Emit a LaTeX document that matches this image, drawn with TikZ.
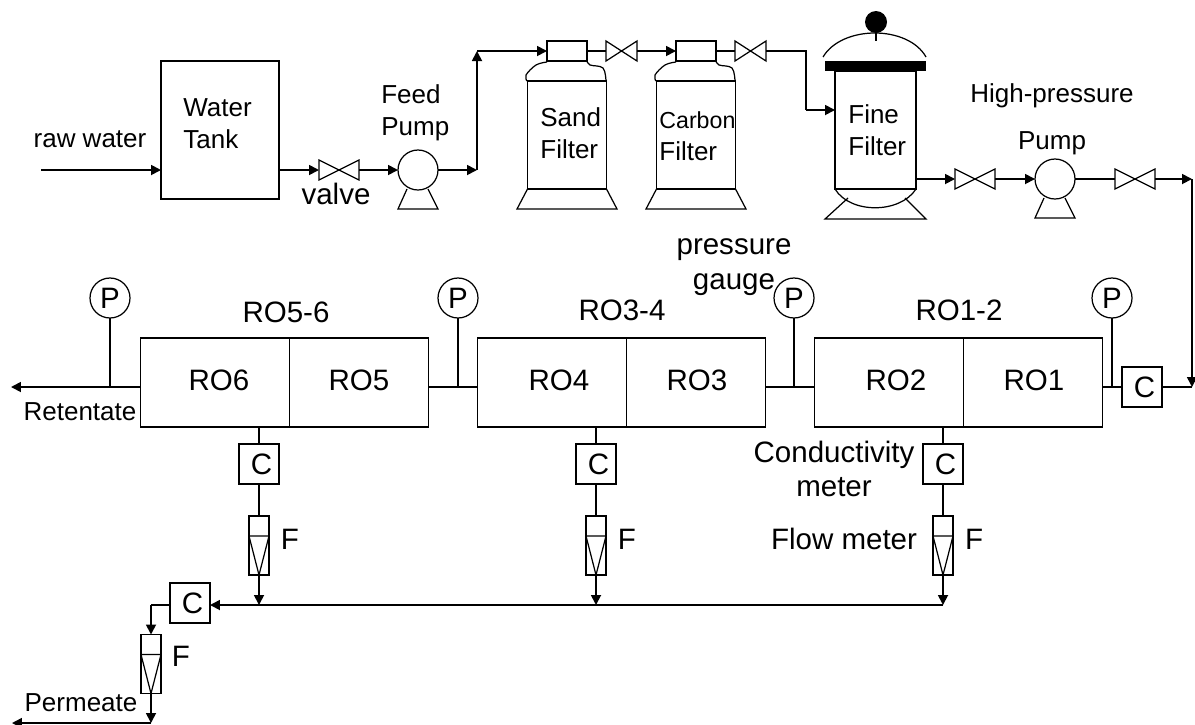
\documentclass[tikz,border=0pt]{standalone}
\usepackage{fontspec}
\setmainfont{Liberation Sans}
\usetikzlibrary{arrows.meta, positioning, shapes, calc}

% Valve, pump and flow meter symbols, each built round one named node
\newcommand{\valvesym}[4][0.8cm]{
  \node (#2) [valvebox, minimum width=#1] at (#3,#4) {};
  \draw [sym] (#2.north west) -- (#2.south east) -- (#2.north east) -- (#2.south west) -- cycle;
}
\newcommand{\pumpsym}[3]{
  \node (#1) [pumpbody] at (#2,#3) {};
  \draw [sym] ({#2-11},{#3+19}) -- ({#2-20},{#3+39}) -- ({#2+20},{#3+39}) -- ({#2+10},{#3+19});
}
\newcommand{\flowsym}[3]{
  \node (#1) [flowbox] at (#2,#3) {};
  \draw [sym] (#1.north west) ++(0,-0.4cm) -- ++(0.4cm,0) -- (#1.south) -- cycle;
}
\newcommand{\filtersym}[2]{
  \node (#1body) [filterbody] at (#2,135) {};
  \node (#1cap) [capbox] at (#2,51) {};
  \draw [sym] plot[smooth, tension=0.6] coordinates {({#2-40},81) ({#2-41},75) ({#2-31},65) ({#2-20},62)};
  \draw [sym] plot[smooth, tension=0.6] coordinates {({#2+20},61) ({#2+23},65) ({#2+36},68) ({#2+39},81)};
  \draw [sym] (#1body.south west) -- ({#2-50},209) -- ({#2+50},209) -- (#1body.south east);
}

\begin{document}
\begin{tikzpicture}[x=0.02cm, y=-0.02cm, font=\fontsize{14.8}{18.1}\selectfont]
        \tikzstyle{sym} = [line width=0.7pt]
        \tikzstyle{valvebox} = [rectangle, minimum height=0.4cm, inner sep=0pt, outer sep=0pt]
        \tikzstyle{pumpbody} = [circle, draw, sym, minimum size=0.8cm, inner sep=0pt, outer sep=0pt]
        \tikzstyle{flowbox} = [rectangle, draw, sym, minimum width=0.4cm, minimum height=1.18cm, inner sep=0pt, outer sep=0pt]
        \tikzstyle{filterbody} = [rectangle, draw, sym, minimum width=1.58cm, minimum height=2.16cm, inner sep=0pt, outer sep=0pt]
        \tikzstyle{capbox} = [rectangle, draw, sym, minimum width=0.8cm, minimum height=0.4cm, inner sep=0pt, outer sep=0pt]
        \tikzstyle{robox} = [rectangle, draw, sym, minimum height=1.78cm, inner sep=0pt, outer sep=0pt]
        \tikzstyle{meter} = [rectangle, draw, sym, minimum size=0.8cm, inner sep=0pt, outer sep=0pt, font=\fontsize{16.8}{20}\selectfont, execute at begin node=\hspace{0.1cm}]
        \tikzstyle{gauge} = [circle, draw, sym, minimum size=0.8cm, inner sep=0pt, outer sep=0pt, font=\fontsize{16.8}{20}\selectfont]
        \tikzstyle{lbl} = [inner sep=0pt, text height=2.4ex, text depth=0.5ex]
        \tikzstyle{biglbl} = [lbl, font=\fontsize{16.8}{20}\selectfont]
        \tikzstyle{arrow} = [-{Triangle[length=0.2cm, width=0.2cm]}, line width=1pt]
        \tikzstyle{pipe} = [line width=0.8pt]

        \useasboundingbox (0,0) rectangle (1195,724);

        % Feed side
        \coordinate (rawin) at (41,170);
        \node (tank) [rectangle, draw, sym, minimum width=2.36cm, minimum height=2.76cm, inner sep=0pt, outer sep=0pt] at (220,130) {};
        \coordinate (tankout) at (279,170);
        \valvesym{feedvalve}{339}{170}
        \pumpsym{feedpump}{418}{170}
        \coordinate (riser) at (477,170);
        \coordinate (risertop) at (477,51);

        % Filters
        \filtersym{sand}{567}
        \filtersym{carbon}{696}
        \valvesym[0.62cm]{sandvalve}{621.5}{51}
        \valvesym[0.62cm]{carbonvalve}{750.5}{51}
        \node (finebody) [filterbody, minimum width=1.62cm, minimum height=2.36cm] at (875.5,130) {};
        \node (fineband) [rectangle, fill=black, minimum width=2.02cm, minimum height=0.2cm, inner sep=0pt] at (875.5,66) {};
        \node (fineknob) [circle, fill=black, minimum size=0.44cm, inner sep=0pt] at (876,22) {};
        \coordinate (finestem) at (876,41);
        \draw [sym] (fineknob) -- (finestem);
        \draw [sym] (823,57) .. controls (842,25) and (908,25) .. (926,57);
        \draw [sym] (finebody.south west) .. controls (850,214) and (900,214) .. (finebody.south east);
        \draw [sym] (848,198) -- (825,219) -- (926,219) -- (905,198);
        \coordinate (fineelbow) at (806,51);
        \coordinate (finein) at (806,110);
        \coordinate (fineport) at (835,110);
        \coordinate (fineout) at (916,179);

        % High-pressure side
        \valvesym{hpvalvea}{975}{179}
        \pumpsym{hppump}{1055}{179}
        \valvesym{hpvalveb}{1135}{179}
        \coordinate (hpelbow) at (1192,179);
        \coordinate (hpdrop) at (1192,387);

        % Modules
        \node (rotwo) [robox, minimum width=2.98cm] at (889,382.5) {};
        \node (roone) [robox, minimum width=2.78cm] at (1033,382.5) {};
        \node (rofour) [robox, minimum width=2.98cm] at (552,382.5) {};
        \node (rothree) [robox, minimum width=2.78cm] at (696,382.5) {};
        \node (rosix) [robox, minimum width=2.98cm] at (215,382.5) {};
        \node (rofive) [robox, minimum width=2.78cm] at (359,382.5) {};

        % Gauges
        \node (pone) [gauge] at (1112,298) {P};
        \node (ptwo) [gauge] at (794,298) {P};
        \node (pthree) [gauge] at (458,298) {P};
        \node (pfour) [gauge] at (110,298) {P};
        \coordinate (tapone) at (1112,387);
        \coordinate (taptwo) at (794,387);
        \coordinate (tapthree) at (458,387);
        \coordinate (tapfour) at (110,387);
        \coordinate (retout) at (11,387);

        % Meters
        \node (cfeed) [meter] at (1142,387) {C};
        \node (cone) [meter] at (943,464) {C};
        \node (ctwo) [meter] at (596,464) {C};
        \node (cthree) [meter] at (259,464) {C};
        \flowsym{fone}{943}{545.5}
        \flowsym{ftwo}{596}{545.5}
        \flowsym{fthree}{259}{545.5}
        \coordinate (jone) at (943,605);
        \coordinate (jtwo) at (596,605);
        \coordinate (jthree) at (259,605);
        \coordinate (roonebot) at (943,427);
        \coordinate (rotwobot) at (596,427);
        \coordinate (rothreebot) at (259,427);

        % Permeate
        \node (cperm) [meter] at (190,603) {C};
        \coordinate (permelbow) at (151,605);
        \flowsym{fperm}{151}{664}
        \coordinate (permend) at (151,723);
        \coordinate (permout) at (12,723);

        % Arrows on the feed side
        \draw [arrow] (rawin) -- (tank.west |- rawin);
        \draw [arrow] (tankout) -- (feedvalve);
        \draw [arrow] (feedvalve) -- (feedpump);
        \draw [arrow] (feedpump) -- (riser);
        \draw [arrow] (riser) -- (risertop);
        \draw [arrow] (risertop) -- (sandcap);
        \draw [pipe] (sandcap) -- (sandvalve);
        \draw [arrow] (sandvalve) -- (carboncap);
        \draw [pipe] (carboncap) -- (carbonvalve);
        \draw [pipe] (carbonvalve) -- (fineelbow) -- (finein);
        \draw [arrow] (finein) -- (fineport);
        \draw [arrow] (fineout) -- (hpvalvea);
        \draw [arrow] (hpvalvea) -- (hppump);
        \draw [pipe] (hppump) -- (hpvalveb);
        \draw [arrow] (hpvalveb) -- (hpelbow);
        \draw [arrow] (hpelbow) -- (hpdrop);

        % Pipes along the modules
        \draw [pipe] (hpdrop) -- (cfeed);
        \draw [pipe] (cfeed) -- (roone.east |- cfeed);
        \draw [pipe] (rotwo.west |- taptwo) -- (rothree.east |- taptwo);
        \draw [pipe] (rofour.west |- tapthree) -- (rofive.east |- tapthree);
        \draw [arrow] (rosix.west |- tapfour) -- (retout);
        \draw [pipe] (pone) -- (tapone);
        \draw [pipe] (ptwo) -- (taptwo);
        \draw [pipe] (pthree) -- (tapthree);
        \draw [pipe] (pfour) -- (tapfour);

        % Permeate lines
        \draw [pipe] (roonebot) -- (cone);
        \draw [pipe] (rotwobot) -- (ctwo);
        \draw [pipe] (rothreebot) -- (cthree);
        \draw [pipe] (cone) -- (fone);
        \draw [pipe] (ctwo) -- (ftwo);
        \draw [pipe] (cthree) -- (fthree);
        \draw [arrow] (fone) -- (jone);
        \draw [arrow] (ftwo) -- (jtwo);
        \draw [arrow] (fthree) -- (jthree);
        \draw [arrow] (jone) -- (cperm.east |- jone);
        \draw [pipe] (cperm.west |- permelbow) -- (permelbow);
        \draw [arrow] (permelbow) -- (fperm);
        \draw [arrow] (fperm) -- (permend);
        \draw [arrow] (permend) -- (permout);

        % Labels
        \node (rawlabel) [lbl] at (90,139) {raw water};
        \node (tanklabel) [align=left, inner sep=0pt, anchor=west] at (183,124) {Water\\Tank};
        \node (valvelabel) [biglbl] at (336,196) {valve};
        \node (feedlabel) [align=left, inner sep=0pt, anchor=west] at (381,113) {Feed\\Pump};
        \node (sandlabel) [align=left, inner sep=0pt, anchor=west] at (540,133) {Sand\\Filter};
        \node (carbonlabel) [align=left, inner sep=0pt, anchor=west] at (659,136) {\fontsize{13.2}{18.1}\selectfont Carbon\\Filter};
        \node (finelabel) [align=left, inner sep=0pt, anchor=west] at (848,130) {Fine\\Filter};
        \node (hplabel) [lbl] at (1052,94) {High-pressure};
        \node (hppumplabel) [lbl] at (1052,141) {Pump};
        \node (gaugelabel) [align=center, inner sep=0pt, font=\fontsize{16.8}{20}\selectfont] at (734,267) {pressure\\gauge};
        \node (rotwelve) [biglbl] at (959,312) {RO1-2};
        \node (rothreefour) [biglbl] at (622,312) {RO3-4};
        \node (rofivesix) [biglbl] at (286,314) {RO5-6};
        \node (rotwolabel) [biglbl] at (896,382) {RO2};
        \node (roonelabel) [biglbl] at (1034,382) {RO1};
        \node (rofourlabel) [biglbl] at (559,382) {RO4};
        \node (rothreelabel) [biglbl] at (697,382) {RO3};
        \node (rosixlabel) [biglbl] at (219,382) {RO6};
        \node (rofivelabel) [biglbl] at (359,382) {RO5};
        \node (retlabel) [lbl] at (80,412) {Retentate};
        \node (condlabel) [align=center, inner sep=0pt, font=\fontsize{16.8}{19.5}\selectfont] at (834,469) {Conductivity\\meter};
        \node (flowlabel) [biglbl] at (844,541) {Flow meter};
        \node (foneabel) [biglbl] at (974,541) {F};
        \node (ftwolabel) [biglbl] at (627,541) {F};
        \node (fthreelabel) [biglbl] at (290,541) {F};
        \node (fpermlabel) [biglbl] at (181,658) {F};
        \node (permlabel) [lbl] at (81,703) {Permeate};
    \end{tikzpicture}
\end{document}
